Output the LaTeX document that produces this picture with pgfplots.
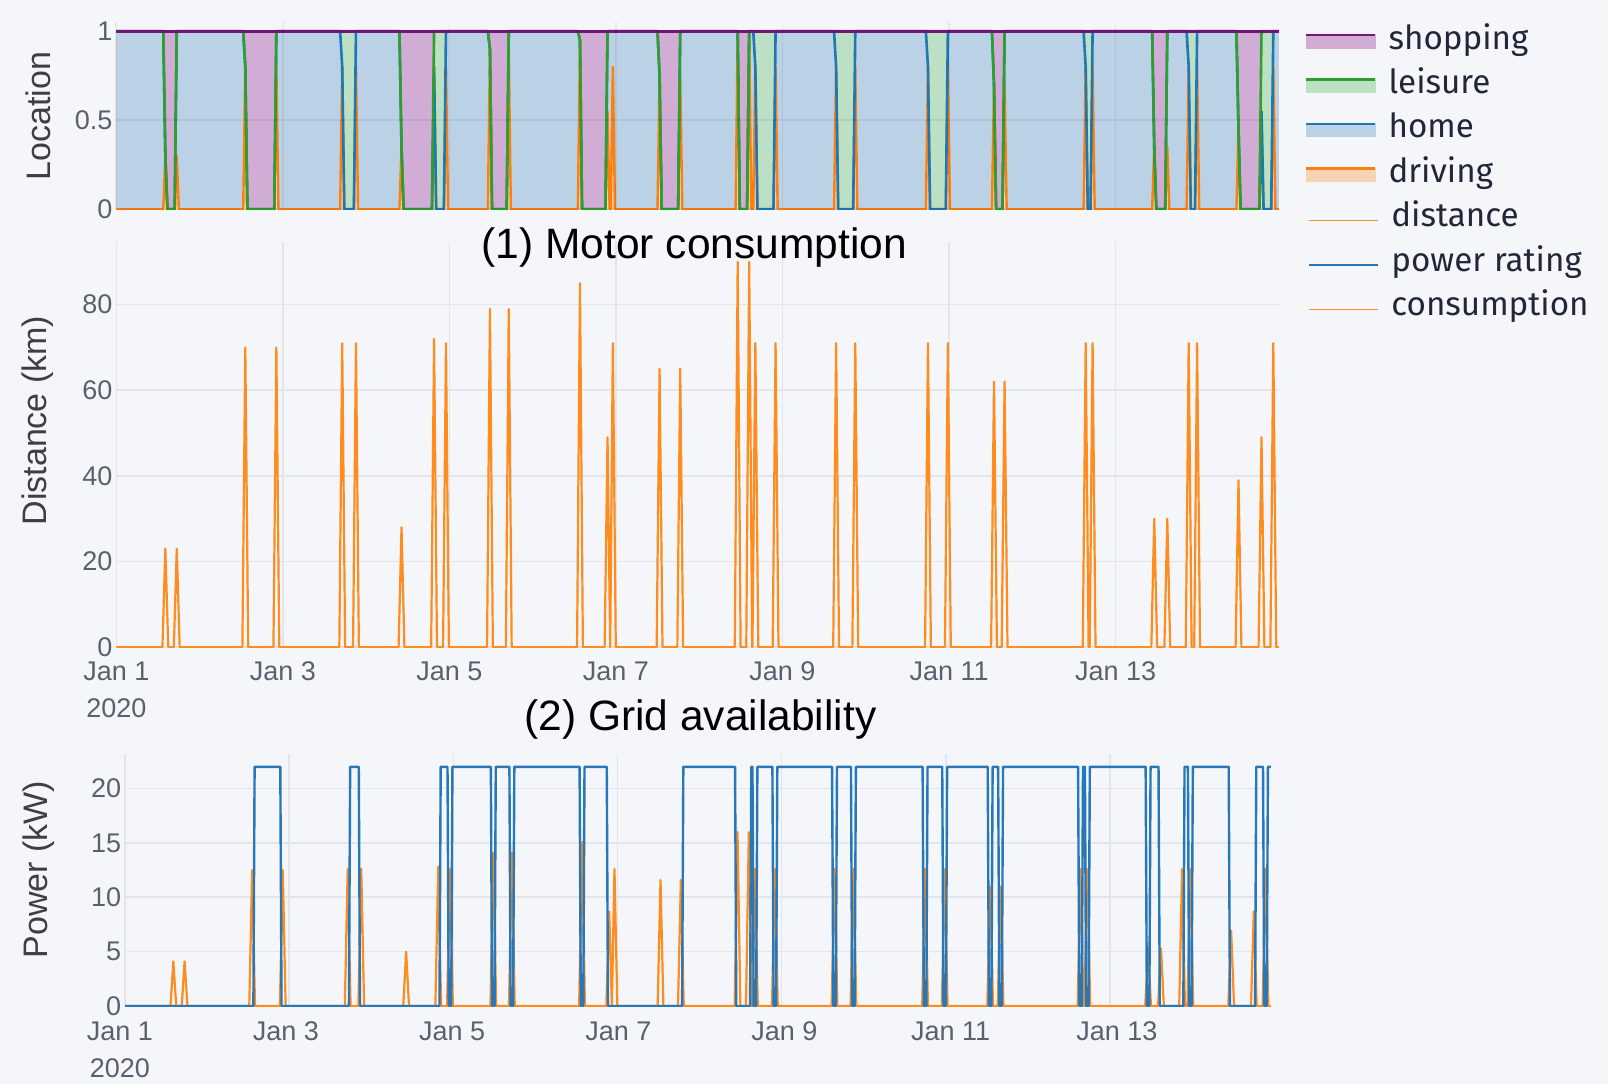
\documentclass[border=0pt]{standalone}
\usepackage{pgfplots}
\usepackage{pgfplotstable}
\pgfplotsset{compat=1.18}
\usepackage{fontspec}
\setmainfont{Liberation Sans}
\newfontfamily\legfont{Fira Sans}

\definecolor{bg}{RGB}{244,246,250}
\definecolor{gridcol}{RGB}{226,229,236}
\definecolor{tickgrey}{RGB}{90,96,108}
\definecolor{axtitle}{RGB}{62,62,68}
\definecolor{legtext}{RGB}{35,38,58}
\definecolor{shopline}{RGB}{118,22,124}
\definecolor{shopfill}{RGB}{209,172,213}
\definecolor{leisline}{RGB}{44,160,44}
\definecolor{leisfill}{RGB}{188,224,196}
\definecolor{homeline}{RGB}{31,119,180}
\definecolor{homefill}{RGB}{187,209,230}
\definecolor{drvline}{RGB}{255,127,14}
\definecolor{drvfill}{RGB}{247,210,179}
\definecolor{orline}{RGB}{255,140,30}
\definecolor{blline}{RGB}{40,120,185}

% location shares (cumulative): c1=driving, c2=+home, c3=+leisure, c4=+shopping
\pgfplotstableread{
t c1 c2 c3 c4
0 0 1 1 1
0.564 0 1 1 1
0.589 0.3 0.3 0.3 1
0.614 0 0 0 1
0.701 0 0 0 1
0.726 0.3 1 1 1
0.751 0 1 1 1
1.524 0 1 1 1
1.549 0.8 0.8 0.8 1
1.574 0 0 0 1
1.897 0 0 0 1
1.922 0.8 1 1 1
1.947 0 1 1 1
2.688 0 1 1 1
2.713 0.8 0.8 1 1
2.738 0 0 1 1
2.853 0 0 1 1
2.878 0.8 1 1 1
2.903 0 1 1 1
3.400 0 1 1 1
3.425 0.35 0.35 0.35 1
3.450 0 0 0 1
3.791 0 0 0 1
3.816 0.8 0.8 1 1
3.841 0 0 1 1
3.934 0 0 1 1
3.959 0.8 1 1 1
3.984 0 1 1 1
4.462 0 1 1 1
4.487 0.9 0.9 0.9 1
4.512 0 0 0 1
4.688 0 0 0 1
4.713 0.9 1 1 1
4.738 0 1 1 1
5.543 0 1 1 1
5.568 0.95 0.95 0.95 1
5.593 0 0 0 1
5.874 0 0 0 1
5.899 0.55 1 1 1
5.924 0 1 1 1
5.938 0 1 1 1
5.963 0.8 1 1 1
5.988 0 1 1 1
6.499 0 1 1 1
6.524 0.75 0.75 0.75 1
6.549 0 0 0 1
6.747 0 0 0 1
6.772 0.75 1 1 1
6.797 0 1 1 1
7.437 0 1 1 1
7.462 1 1 1 1
7.487 0 0 0 1
7.575 0 0 0 1
7.600 1 1 1 1
7.625 0 1 1 1
7.649 0 1 1 1
7.674 0.8 0.8 1 1
7.699 0 0 1 1
7.892 0 0 1 1
7.917 0.8 1 1 1
7.942 0 1 1 1
8.619 0 1 1 1
8.644 0.8 0.8 1 1
8.669 0 0 1 1
8.849 0 0 1 1
8.874 0.8 1 1 1
8.899 0 1 1 1
9.722 0 1 1 1
9.747 0.8 0.8 1 1
9.772 0 0 1 1
9.961 0 0 1 1
9.986 0.8 1 1 1
10.011 0 1 1 1
10.515 0 1 1 1
10.540 0.7 0.7 0.7 1
10.565 0 0 0 1
10.642 0 0 0 1
10.667 0.7 1 1 1
10.692 0 1 1 1
11.616 0 1 1 1
11.641 0.8 0.8 1 1
11.666 0 0 1 1
11.699 0 0 1 1
11.724 0.8 1 1 1
11.749 0 1 1 1
12.439 0 1 1 1
12.464 0.35 0.35 0.35 1
12.489 0 0 0 1
12.596 0 0 0 1
12.621 0.35 1 1 1
12.646 0 1 1 1
12.853 0 1 1 1
12.878 0.8 0.8 1 1
12.903 0 0 1 1
12.954 0 0 1 1
12.979 0.8 1 1 1
13.004 0 1 1 1
13.451 0 1 1 1
13.476 0.45 0.45 0.45 1
13.501 0 0 0 1
13.727 0 0 0 1
13.752 0.55 0.55 1 1
13.777 0 0 1 1
13.869 0 0 1 1
13.894 0.8 1 1 1
13.919 0 1 1 1
13.99 0 1 1 1
}\loc

% trips: distance (km) and consumption (kW)
\pgfplotstableread{
t d c
0 0 0
0.554 0 0
0.589 23 4.1
0.624 0 0
0.691 0 0
0.726 23 4.1
0.761 0 0
1.514 0 0
1.549 70 12.5
1.584 0 0
1.887 0 0
1.922 70 12.5
1.957 0 0
2.678 0 0
2.713 71 12.6
2.748 0 0
2.843 0 0
2.878 71 12.6
2.913 0 0
3.390 0 0
3.425 28 5.0
3.460 0 0
3.781 0 0
3.816 72 12.8
3.851 0 0
3.924 0 0
3.959 71 12.6
3.994 0 0
4.452 0 0
4.487 79 14.1
4.522 0 0
4.678 0 0
4.713 79 14.1
4.748 0 0
5.533 0 0
5.568 85 15.1
5.603 0 0
5.864 0 0
5.899 49 8.7
5.931 0 0
5.963 71 12.6
5.998 0 0
6.489 0 0
6.524 65 11.6
6.559 0 0
6.737 0 0
6.772 65 11.6
6.807 0 0
7.427 0 0
7.462 90 16.0
7.497 0 0
7.565 0 0
7.600 90 16.0
7.636 0 0
7.639 0 0
7.674 71 12.6
7.709 0 0
7.882 0 0
7.917 71 12.6
7.952 0 0
8.609 0 0
8.644 71 12.6
8.679 0 0
8.839 0 0
8.874 71 12.6
8.909 0 0
9.712 0 0
9.747 71 12.6
9.782 0 0
9.951 0 0
9.986 71 12.6
10.021 0 0
10.505 0 0
10.540 62 11.0
10.575 0 0
10.632 0 0
10.667 62 11.0
10.702 0 0
11.606 0 0
11.641 71 12.6
11.676 0 0
11.689 0 0
11.724 71 12.6
11.759 0 0
12.429 0 0
12.464 30 5.3
12.499 0 0
12.586 0 0
12.621 30 5.3
12.656 0 0
12.843 0 0
12.878 71 12.6
12.913 0 0
12.944 0 0
12.979 71 12.6
13.014 0 0
13.441 0 0
13.476 39 6.9
13.511 0 0
13.717 0 0
13.752 49 8.7
13.787 0 0
13.859 0 0
13.894 71 12.6
13.929 0 0
13.96 0 0
}\trips

% power rating (kW)
\pgfplotstableread{
t p
0 0
1.564 0
1.579 22
1.892 22
1.907 0
2.728 0
2.743 22
2.848 22
2.863 0
3.831 0
3.846 22
3.929 22
3.944 0
3.974 0
3.989 22
4.457 22
4.472 0
4.502 0
4.517 22
4.683 22
4.698 0
4.728 0
4.743 22
5.538 22
5.553 0
5.583 0
5.598 22
5.869 22
5.884 0
6.787 0
6.802 22
7.432 22
7.447 0
7.615 0
7.630 22
7.644 22
7.659 0
7.689 0
7.704 22
7.887 22
7.902 0
7.932 0
7.947 22
8.614 22
8.629 0
8.659 0
8.674 22
8.844 22
8.859 0
8.889 0
8.904 22
9.717 22
9.732 0
9.762 0
9.777 22
9.956 22
9.971 0
10.001 0
10.016 22
10.510 22
10.525 0
10.555 0
10.570 22
10.637 22
10.652 0
10.682 0
10.697 22
11.611 22
11.626 0
11.656 0
11.671 22
11.694 22
11.709 0
11.739 0
11.754 22
12.434 22
12.449 0
12.479 0
12.494 22
12.591 22
12.606 0
12.893 0
12.908 22
12.949 22
12.964 0
12.994 0
13.009 22
13.446 22
13.461 0
13.767 0
13.782 22
13.864 22
13.879 0
13.909 0
13.924 22
13.96 22
}\power

\pgfplotsset{
  panel/.style={
    anchor=north west, scale only axis,
    xmin=0, xmax=13.96, ymin=0,
    axis line style={draw=none}, tick style={draw=none},
    grid=major, grid style={gridcol, line width=0.8pt},
    xtick={0,2,4,6,8,10,12},
    /pgf/number format/assume math mode=true,
    yticklabel style={font=\fontsize{13.5}{16}\selectfont, text=tickgrey, anchor=east, inner sep=0pt, xshift=-1.75pt},
    xticklabel style={font=\fontsize{13.5}{18.5}\selectfont, text=tickgrey, anchor=north, inner sep=0pt, yshift=-7pt, align=center},
  },
  datelabels/.style={xticklabels={{Jan 1\\2020},Jan 3,Jan 5,Jan 7,Jan 9,Jan 11,Jan 13}},
}

\begin{document}
\begin{tikzpicture}[x=1pt,y=1pt]
\path[use as bounding box, fill=bg] (0pt,0pt) rectangle (804pt,-542pt);

% ---------- Panel 1: Location ----------
\begin{axis}[panel,
  at={(58.15pt,-10.95pt)}, width=581.25pt, height=93.65pt,
  ymax=1.0526, axis on top,
  grid style={black, opacity=0.06, line width=0.8pt},
  xticklabels={},
  ytick={0,0.5,1}, yticklabels={0,0.5,1},
  legend cell align=left,
  legend style={draw=none, fill=none, at={(1.0226,0.983)}, anchor=north west,
    inner sep=0pt, outer sep=0pt, row sep=6.2pt, column sep=5pt,
    nodes={inner sep=0pt, text height=12pt, text depth=4pt,
      font=\legfont\fontsize{16.6}{20}\selectfont, text=legtext}},
]
\addplot[forget plot, fill=shopfill, draw=none] table[x=t,y=c4]{\loc} \closedcycle;
\addplot[forget plot, fill=leisfill, draw=none] table[x=t,y=c3]{\loc} \closedcycle;
\addplot[forget plot, fill=homefill, draw=none] table[x=t,y=c2]{\loc} \closedcycle;
\addplot[forget plot, fill=drvfill, draw=none] table[x=t,y=c1]{\loc} \closedcycle;
\addplot[forget plot, drvline, line width=1.2pt, line join=round] table[x=t,y=c1]{\loc};
\addplot[forget plot, homeline, line width=1.3pt, line join=round] table[x=t,y=c2]{\loc};
\addplot[forget plot, leisline, line width=1.3pt, line join=round] table[x=t,y=c3]{\loc};
\addplot[forget plot, shopline, line width=1.7pt, line join=round] table[x=t,y=c4]{\loc};

\addlegendimage{legend image code/.code={\fill[shopfill] (0pt,-3.5pt) rectangle (34.5pt,3pt); \draw[shopline,line width=1.3pt] (0pt,3pt) -- (34.5pt,3pt);}}
\addlegendentry{shopping}
\addlegendimage{legend image code/.code={\fill[leisfill] (0pt,-3.5pt) rectangle (34.5pt,3pt); \draw[leisline,line width=1.3pt] (0pt,3pt) -- (34.5pt,3pt);}}
\addlegendentry{leisure}
\addlegendimage{legend image code/.code={\fill[homefill] (0pt,-3.5pt) rectangle (34.5pt,3pt); \draw[homeline,line width=1.3pt] (0pt,3pt) -- (34.5pt,3pt);}}
\addlegendentry{home}
\addlegendimage{legend image code/.code={\fill[drvfill] (0pt,-3.5pt) rectangle (34.5pt,3pt); \draw[drvline,line width=1.3pt] (0pt,3pt) -- (34.5pt,3pt);}}
\addlegendentry{driving}
\addlegendimage{legend image code/.code={\draw[orline,line width=0.8pt] (1.5pt,-1pt) -- (35.7pt,-1pt);}}
\addlegendentry{\hspace{1.4pt}distance}
\addlegendimage{legend image code/.code={\draw[blline,line width=0.8pt] (1.5pt,-1pt) -- (35.7pt,-1pt);}}
\addlegendentry{\hspace{1.4pt}power rating}
\addlegendimage{legend image code/.code={\draw[orline,line width=0.8pt] (1.5pt,-1pt) -- (35.7pt,-1pt);}}
\addlegendentry{\hspace{1.4pt}consumption}
\end{axis}

% ---------- Panel 2: Distance ----------
\begin{axis}[panel, datelabels,
  at={(58.15pt,-120.75pt)}, width=581.25pt, height=202.8pt,
  ymax=94.74, ytick={0,20,40,60,80}, yticklabels={0,20,40,60,80},
]
\addplot[orline, line width=1.1pt, line join=round] table[x=t,y=d]{\trips};
\end{axis}

% ---------- Panel 3: Power ----------
\begin{axis}[panel, datelabels,
  at={(62.5pt,-377.1pt)}, width=572.95pt, height=125.9pt,
  ymax=23.16, ytick={0,5,10,15,20}, yticklabels={0,5,10,15,20},
  xticklabel style={xshift={\ticknum*1.0pt-2.6pt}, yshift=-0.8pt},
]
\addplot[orline, line width=1.1pt, line join=round] table[x=t,y=c]{\trips};
\addplot[blline, line width=1.2pt, line join=round] table[x=t,y=p]{\power};
\end{axis}

% ---------- titles ----------
\node[rotate=90, font=\fontsize{17}{20}\selectfont, text=axtitle] at (19pt,-58pt) {Location};
\node[rotate=90, font=\fontsize{17}{20}\selectfont, text=axtitle] at (19pt,-210.25pt) {Distance (km)};
\node[rotate=90, font=\fontsize{17}{20}\selectfont, text=axtitle] at (19.5pt,-434.8pt) {Power (kW)};
\node[font=\fontsize{21.25}{25}\selectfont, text=black] at (347.1pt,-123.6pt) {(1) Motor consumption};
\node[font=\fontsize{21.25}{25}\selectfont, text=black] at (350.2pt,-359.8pt) {(2) Grid availability};
\end{tikzpicture}
\end{document}
